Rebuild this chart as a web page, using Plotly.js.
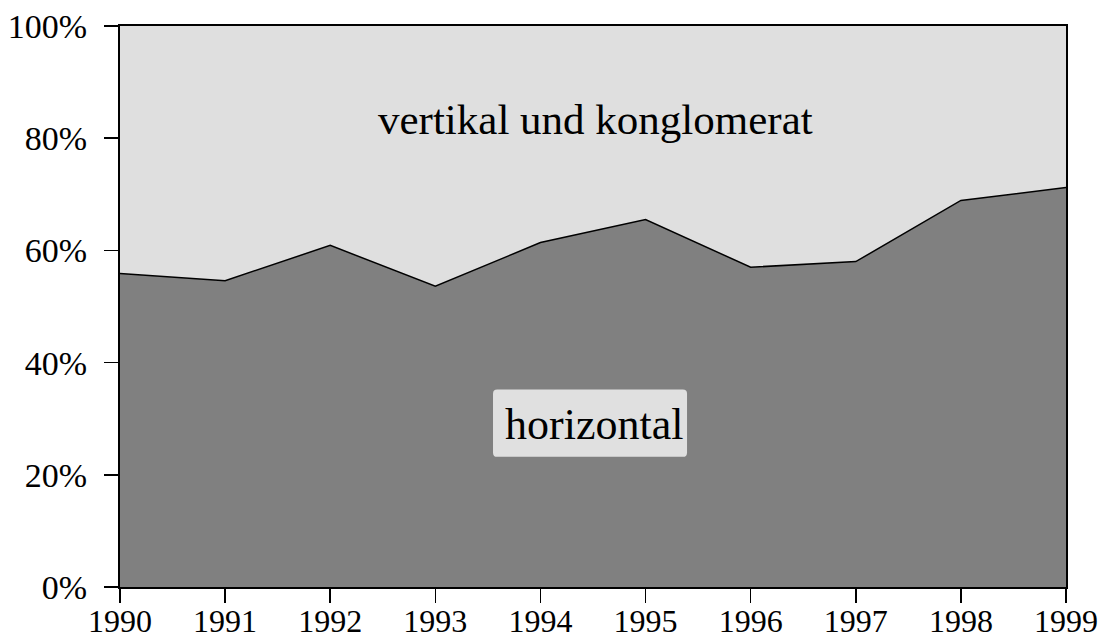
<!DOCTYPE html>
<html><head><meta charset="utf-8">
<script src="https://cdn.plot.ly/plotly-3.0.1.min.js"></script>
<style>html,body{margin:0;padding:0;background:#fff;}</style>
</head><body>
<div id="chart" style="width:1105px;height:644px;"></div>
<script>
const years = [1990, 1991, 1992, 1993, 1994, 1995, 1996, 1997, 1998, 1999];
const horizontal = [55.9, 54.6, 60.9, 53.6, 61.4, 65.5, 57.0, 58.0, 68.9, 71.2];
const total = [100, 100, 100, 100, 100, 100, 100, 100, 100, 100];
const yTicks = [0, 20, 40, 60, 80, 100];
const labelTop = "vertikal und konglomerat";
const labelBottom = "horizontal";

const font = {family: "Liberation Serif, Times New Roman, serif", color: "#000"};

const traces = [
  {x: years, y: horizontal, type: "scatter", mode: "lines", fill: "tozeroy",
   fillcolor: "#808080", line: {color: "#000", width: 1.5}, hoverinfo: "skip"},
  {x: years, y: total, type: "scatter", mode: "lines", fill: "tonexty",
   fillcolor: "#dfdfdf", line: {color: "#000", width: 0}, hoverinfo: "skip"}
];

// rounded label box (paper x, data y)
const bx0 = 0.3943, bx1 = 0.5994, by0 = 23.2, by1 = 35.2, rx = 0.0045, ry = 0.75;
const boxPath = `M ${bx0+rx},${by0} L ${bx1-rx},${by0} Q ${bx1},${by0} ${bx1},${by0+ry} ` +
  `L ${bx1},${by1-ry} Q ${bx1},${by1} ${bx1-rx},${by1} L ${bx0+rx},${by1} ` +
  `Q ${bx0},${by1} ${bx0},${by1-ry} L ${bx0},${by0+ry} Q ${bx0},${by0} ${bx0+rx},${by0} Z`;

const layout = {
  width: 1105, height: 644,
  margin: {l: 120, r: 39, t: 26, b: 57},
  paper_bgcolor: "#fff", plot_bgcolor: "#fff",
  showlegend: false,
  font: Object.assign({size: 34}, font),
  xaxis: {range: [1990, 1999], tickvals: years, ticktext: years.map(String),
    showgrid: false, zeroline: false, showline: true, mirror: true,
    linecolor: "#000", linewidth: 2, ticks: "outside", ticklen: 14, tickwidth: 1.5,
    tickcolor: "#000", ticklabelstandoff: -9, tickfont: Object.assign({size: 32}, font)},
  yaxis: {range: [0, 100], tickvals: yTicks, ticktext: yTicks.map(v => v + "%"),
    showgrid: false, zeroline: false, showline: true, mirror: true,
    linecolor: "#000", linewidth: 2, ticks: "outside", ticklen: 14, tickwidth: 1.5,
    tickcolor: "#000", ticklabelstandoff: 10, tickfont: Object.assign({size: 34}, font)},
  shapes: [
    {type: "path", xref: "paper", yref: "y", path: boxPath,
     fillcolor: "#e0e0e0", line: {width: 0}, layer: "above"}
  ],
  annotations: [
    {text: labelTop, x: 0.503, y: 83.3, xref: "paper", yref: "y", showarrow: false,
     font: Object.assign({size: 43}, font)},
    {text: labelBottom, x: 0.501, y: 29.0, xref: "paper", yref: "y", showarrow: false,
     font: Object.assign({size: 44}, font)}
  ]
};

Plotly.newPlot("chart", traces, layout, {staticPlot: true, displayModeBar: false});
</script>
</body></html>
